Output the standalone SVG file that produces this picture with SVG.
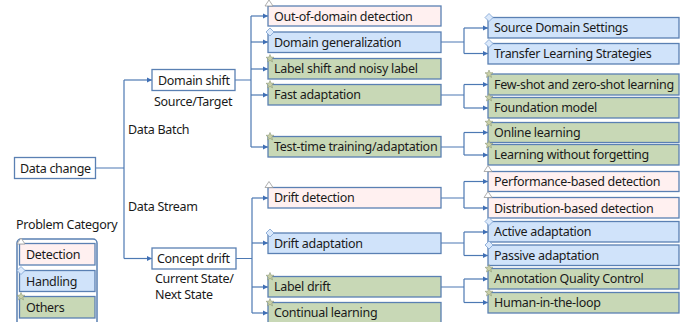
<svg xmlns="http://www.w3.org/2000/svg" width="686" height="322" viewBox="0 0 686 322">
<style>
text{font-family:"Noto Sans","Open Sans","DejaVu Sans",sans-serif;font-size:12.5px;letter-spacing:-0.3px;fill:#1a1a1a}
.box{stroke:#5a80b3;stroke-width:1.3}
.w{fill:#ffffff}
.d{fill:#fff0f0}
.h{fill:#d0e3fa}
.o{fill:#c8d8b6}
.ln{fill:none;stroke:#4d79b3;stroke-width:1.2}
.ar{fill:none;stroke:#4d79b3;stroke-width:1.2;marker-end:url(#ah)}
</style>
<defs>
<marker id="ah" markerUnits="userSpaceOnUse" markerWidth="6" markerHeight="6" refX="5" refY="3" orient="auto">
<path d="M0,0.5 L5,3 L0,5.5 z" fill="#3f6fb5"/>
</marker>
<g id="tri"><path d="M0,-5 L-4,1 L4,1 z" fill="#ffffff" stroke="#9a9a9a" stroke-width="0.8"/></g>
<g id="dia"><path d="M0,-4 L4,0 L0,4 L-4,0 z" fill="#dbe9fb" stroke="#7a9fd0" stroke-width="0.8"/></g>
<g id="star"><path d="M0,-4 L1.1,-1.3 L4,-1.2 L1.8,0.6 L2.5,3.4 L0,1.8 L-2.5,3.4 L-1.8,0.6 L-4,-1.2 L-1.1,-1.3 z" fill="#c9cfa6" stroke="#8f9a78" stroke-width="0.6"/></g>
</defs>

<g id="connectors">
<path class="ln" d="M96,168 H124 M124,80 V258.5"/>
<path class="ar" d="M124,80 H152"/>
<path class="ar" d="M124,258.5 H152"/>
<path class="ln" d="M235,80 H251 M251,16 V147"/>
<path class="ar" d="M251,16 H268"/>
<path class="ar" d="M251,42 H268"/>
<path class="ar" d="M251,69 H268"/>
<path class="ar" d="M251,95 H268"/>
<path class="ar" d="M251,147 H268"/>
<path class="ln" d="M236,258.5 H252 M252,198 V313"/>
<path class="ar" d="M252,198 H268"/>
<path class="ar" d="M252,243 H268"/>
<path class="ar" d="M252,287 H268"/>
<path class="ar" d="M252,313 H268"/>
<path class="ln" d="M441,42 H464 M464,28 V53.5"/>
<path class="ar" d="M464,28 H488"/>
<path class="ar" d="M464,53.5 H488"/>
<path class="ln" d="M441,95 H464 M464,84.5 V108"/>
<path class="ar" d="M464,84.5 H488"/>
<path class="ar" d="M464,108 H488"/>
<path class="ln" d="M441,147 H464 M464,132.5 V155"/>
<path class="ar" d="M464,132.5 H488"/>
<path class="ar" d="M464,155 H488"/>
<path class="ln" d="M441,198 H464 M464,181.5 V208"/>
<path class="ar" d="M464,181.5 H488"/>
<path class="ar" d="M464,208 H488"/>
<path class="ln" d="M441,243 H464 M464,232 V255.5"/>
<path class="ar" d="M464,232 H488"/>
<path class="ar" d="M464,255.5 H488"/>
<path class="ln" d="M441,287 H464 M464,279 V302.5"/>
<path class="ar" d="M464,279 H488"/>
<path class="ar" d="M464,302.5 H488"/>
</g>

<g id="data-change"><rect class="box w" x="14.5" y="157.5" width="81" height="21"/><text x="20" y="172.5">Data change</text></g>
<g id="domain-shift"><rect class="box w" x="152" y="69.5" width="83" height="21"/><text x="158" y="84.5">Domain shift</text></g>
<g id="concept-drift"><rect class="box w" x="152" y="248" width="84" height="21"/><text x="157" y="263">Concept drift</text></g>

<g id="labels">
<text x="154" y="106">Source/Target</text>
<text x="128" y="134">Data Batch</text>
<text x="128" y="211">Data Stream</text>
<text x="155" y="283">Current State/</text>
<text x="155" y="299">Next State</text>
<text x="16" y="229">Problem Category</text>
</g>

<g id="out-of-domain"><rect class="box d" x="268" y="6" width="173" height="20"/><use href="#tri" x="269" y="5"/><text x="274" y="20.5">Out-of-domain detection</text></g>
<g id="domain-generalization"><rect class="box h" x="268" y="32" width="173" height="20.5"/><use href="#dia" x="270" y="32"/><text x="274" y="46.5">Domain generalization</text></g>
<g id="label-shift"><rect class="box o" x="268" y="58.5" width="173" height="20.5"/><use href="#star" x="270" y="58.5"/><text x="274" y="73">Label shift and noisy label</text></g>
<g id="fast-adaptation"><rect class="box o" x="268" y="84.5" width="173" height="20.5"/><use href="#star" x="270" y="84.5"/><text x="274" y="99">Fast adaptation</text></g>
<g id="test-time"><rect class="box o" x="268" y="136.5" width="173" height="20.5"/><use href="#star" x="270" y="136.5"/><text x="274" y="151">Test-time training/adaptation</text></g>
<g id="drift-detection"><rect class="box d" x="268" y="187.5" width="173" height="20.5"/><use href="#tri" x="269" y="186.5"/><text x="274" y="202">Drift detection</text></g>
<g id="drift-adaptation"><rect class="box h" x="268" y="233" width="173" height="20.5"/><use href="#dia" x="270" y="233"/><text x="274" y="247.5">Drift adaptation</text></g>
<g id="label-drift"><rect class="box o" x="268" y="276.5" width="173" height="20.5"/><use href="#star" x="270" y="276.5"/><text x="274" y="291">Label drift</text></g>
<g id="continual-learning"><rect class="box o" x="268" y="302.5" width="173" height="22"/><use href="#star" x="270" y="302.5"/><text x="274" y="317">Continual learning</text></g>

<g id="source-domain"><rect class="box h" x="488" y="17.5" width="191" height="20.5"/><use href="#dia" x="489" y="17.5"/><text x="494" y="32">Source Domain Settings</text></g>
<g id="transfer-learning"><rect class="box h" x="488" y="43.5" width="191" height="20.5"/><use href="#dia" x="489" y="43.5"/><text x="494" y="58">Transfer Learning Strategies</text></g>
<g id="few-shot"><rect class="box o" x="488" y="74" width="191" height="21"/><use href="#star" x="489" y="74"/><text x="494" y="89">Few-shot and zero-shot learning</text></g>
<g id="foundation-model"><rect class="box o" x="488" y="97.5" width="191" height="20.5"/><use href="#star" x="489" y="97.5"/><text x="494" y="112">Foundation model</text></g>
<g id="online-learning"><rect class="box o" x="488" y="122.5" width="191" height="20"/><use href="#star" x="489" y="122.5"/><text x="494" y="137">Online learning</text></g>
<g id="lwf"><rect class="box o" x="488" y="144.5" width="191" height="20.5"/><use href="#star" x="489" y="144.5"/><text x="494" y="159">Learning without forgetting</text></g>
<g id="performance-based"><rect class="box d" x="488" y="171.5" width="191" height="20"/><use href="#tri" x="488" y="170.5"/><text x="494" y="186">Performance-based detection</text></g>
<g id="distribution-based"><rect class="box d" x="488" y="197.5" width="191" height="20.5"/><use href="#tri" x="488" y="196.5"/><text x="494" y="212.5">Distribution-based detection</text></g>
<g id="active-adaptation"><rect class="box h" x="488" y="221.5" width="191" height="20.5"/><use href="#dia" x="489" y="221.5"/><text x="494" y="236">Active adaptation</text></g>
<g id="passive-adaptation"><rect class="box h" x="488" y="245" width="191" height="20.5"/><use href="#dia" x="489" y="245"/><text x="494" y="259.5">Passive adaptation</text></g>
<g id="annotation-quality"><rect class="box o" x="488" y="268.5" width="191" height="20.5"/><use href="#star" x="489" y="268.5"/><text x="494" y="283">Annotation Quality Control</text></g>
<g id="human-in-the-loop"><rect class="box o" x="488" y="292.5" width="191" height="20.5"/><use href="#star" x="489" y="292.5"/><text x="494" y="307">Human-in-the-loop</text></g>

<g id="legend">
<rect x="17" y="239" width="80" height="95" rx="4" fill="none" stroke="#5a80b3" stroke-width="1.5"/>
<g id="legend-detection"><rect class="box d" x="19.5" y="243.5" width="75.5" height="21.5"/><use href="#tri" x="21" y="243"/><text x="26" y="259">Detection</text></g>
<g id="legend-handling"><rect class="box h" x="19.5" y="270.5" width="75.5" height="21"/><use href="#dia" x="21" y="270.5"/><text x="26" y="285.5">Handling</text></g>
<g id="legend-others"><rect class="box o" x="19.5" y="296.5" width="75.5" height="21.5"/><use href="#star" x="21" y="296.5"/><text x="26" y="312">Others</text></g>
</g>
</svg>
